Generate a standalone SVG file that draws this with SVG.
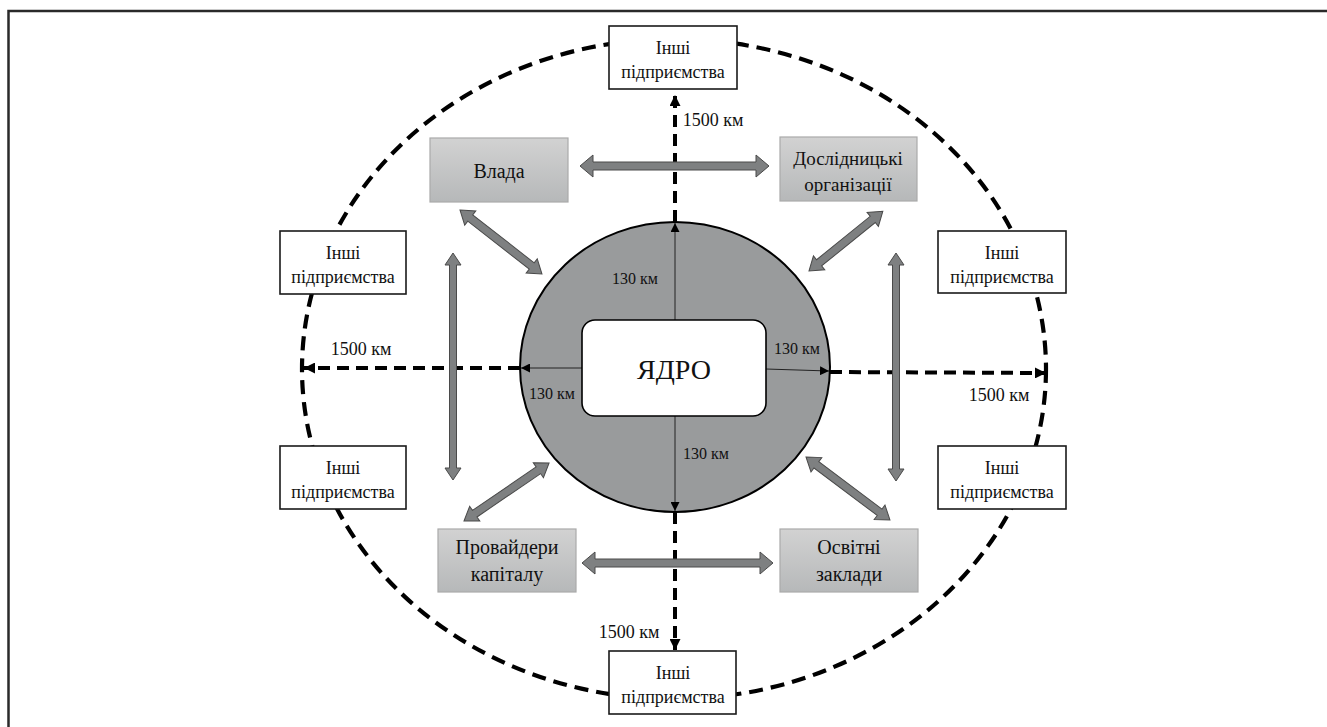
<svg xmlns="http://www.w3.org/2000/svg" width="1327" height="727" viewBox="0 0 1327 727">
<style>
.t{font-family:"Liberation Serif","Times New Roman",serif;fill:#111;text-anchor:middle}
.other{fill:#fff;stroke:#1a1a1a;stroke-width:1.6}
.gray{fill:url(#gg);stroke:#aaa;stroke-width:1.2}
.dash{fill:none;stroke:#000;stroke-width:4;stroke-dasharray:12 7}
.thin{fill:none;stroke:#222;stroke-width:1}
.blk{fill:#7e8081;stroke:#4a4a4a;stroke-width:1}
</style>
<defs>
<linearGradient id="gg" x1="0" y1="0" x2="0" y2="1">
<stop offset="0" stop-color="#d2d2d2"/>
<stop offset="1" stop-color="#b6b8b9"/>
</linearGradient>
<marker id="ah" viewBox="0 0 10 10" refX="10" refY="5" markerWidth="11" markerHeight="11" markerUnits="userSpaceOnUse" orient="auto">
<path d="M0,0 L10,5 L0,10 z" fill="#000"/>
</marker>
<marker id="ahs" viewBox="0 0 10 10" refX="10" refY="5" markerWidth="9" markerHeight="9" markerUnits="userSpaceOnUse" orient="auto">
<path d="M0,0 L10,5 L0,10 z" fill="#000"/>
</marker>
</defs>
<rect width="1327" height="727" fill="#fff"/>
<path d="M8.5,727 V11 H1327" fill="none" stroke="#2a2a2a" stroke-width="2.5"/>

<g id="boundary">
<ellipse cx="674" cy="369" rx="372" ry="330" fill="none" stroke="#000" stroke-width="4.2" stroke-dasharray="14 8"/>
</g>

<g id="cluster">
<ellipse cx="675" cy="367" rx="155" ry="145" fill="#999b9c" stroke="#000" stroke-width="2"/>
</g>

<g id="connectors">
<line x1="675" y1="320" x2="675" y2="223" class="thin" marker-end="url(#ahs)"/>
<line x1="675" y1="416" x2="675" y2="511" class="thin" marker-end="url(#ahs)"/>
<line x1="582" y1="368" x2="521" y2="368" class="thin" marker-end="url(#ahs)"/>
<line x1="766" y1="369" x2="829" y2="371" class="thin" marker-end="url(#ahs)"/>
<line x1="675" y1="222" x2="675" y2="95" class="dash" marker-end="url(#ah)"/>
<line x1="675" y1="512" x2="675" y2="650" class="dash" marker-end="url(#ah)"/>
<line x1="520" y1="368" x2="304" y2="368" class="dash" marker-end="url(#ah)"/>
<line x1="830" y1="372" x2="1046" y2="373" class="dash" marker-end="url(#ah)"/>
<polygon class="blk" transform="translate(580,166)" points="0,0 13,-11 13,-4 176,-4 176,-11 189,0 176,11 176,4 13,4 13,11"/>
<polygon class="blk" transform="translate(582,563)" points="0,0 13,-11 13,-4 178,-4 178,-11 191,0 178,11 178,4 13,4 13,11"/>
<polygon class="blk" transform="translate(453,253) rotate(90)" points="0,0 12,-8 12,-3.5 215,-3.5 215,-8 227,0 215,8 215,3.5 12,3.5 12,8"/>
<polygon class="blk" transform="translate(896,253) rotate(90)" points="0,0 12,-8 12,-3.5 216,-3.5 216,-8 228,0 216,8 216,3.5 12,3.5 12,8"/>
<polygon class="blk" transform="translate(460,210) rotate(38)" points="0,0 13,-9 13,-4 91,-4 91,-9 104,0 91,9 91,4 13,4 13,9"/>
<polygon class="blk" transform="translate(809,271) rotate(-39)" points="0,0 13,-9 13,-4 82,-4 82,-9 95,0 82,9 82,4 13,4 13,9"/>
<polygon class="blk" transform="translate(464,521) rotate(-34.3)" points="0,0 13,-9 13,-4 90,-4 90,-9 103,0 90,9 90,4 13,4 13,9"/>
<polygon class="blk" transform="translate(806,457) rotate(36.9)" points="0,0 13,-9 13,-4 92,-4 92,-9 105,0 92,9 92,4 13,4 13,9"/>
</g>

<g id="labels">
<text class="t" x="635" y="284" font-size="16">130 км</text>
<text class="t" x="552" y="399" font-size="16">130 км</text>
<text class="t" x="797" y="354" font-size="16">130 км</text>
<text class="t" x="706" y="459" font-size="16">130 км</text>
<text class="t" x="713" y="126" font-size="18">1500 км</text>
<text class="t" x="629" y="638" font-size="18">1500 км</text>
<text class="t" x="361" y="355" font-size="18">1500 км</text>
<text class="t" x="999" y="401" font-size="18">1500 км</text>
</g>

<g id="core">
<rect x="582" y="320" width="184" height="96" rx="13" fill="#fff" stroke="#000" stroke-width="1.6"/>
<text class="t" x="674" y="379" font-size="28">ЯДРО</text>
</g>

<g id="vlada">
<rect class="gray" x="430" y="138" width="138" height="64"/>
<text class="t" x="499" y="178" font-size="20">Влада</text>
</g>
<g id="research">
<rect class="gray" x="780" y="137" width="137" height="64"/>
<text class="t" x="848" y="165" font-size="19">Дослідницькі</text>
<text class="t" x="848" y="191" font-size="19">організації</text>
</g>
<g id="capital">
<rect class="gray" x="438" y="529" width="138" height="63"/>
<text class="t" x="507" y="554" font-size="20">Провайдери</text>
<text class="t" x="507" y="581" font-size="20">капіталу</text>
</g>
<g id="education">
<rect class="gray" x="780" y="529" width="138" height="63"/>
<text class="t" x="849" y="554" font-size="20">Освітні</text>
<text class="t" x="849" y="581" font-size="20">заклади</text>
</g>

<g id="other-top">
<rect class="other" x="609" y="26" width="128" height="63"/>
<text class="t" x="673" y="54" font-size="18">Інші</text>
<text class="t" x="673" y="78" font-size="18">підприємства</text>
</g>
<g id="other-bottom">
<rect class="other" x="609" y="651" width="127" height="63"/>
<text class="t" x="673" y="679" font-size="18">Інші</text>
<text class="t" x="673" y="703" font-size="18">підприємства</text>
</g>
<g id="other-left-top">
<rect class="other" x="280" y="231" width="126" height="63"/>
<text class="t" x="343" y="259" font-size="18">Інші</text>
<text class="t" x="343" y="283" font-size="18">підприємства</text>
</g>
<g id="other-left-bottom">
<rect class="other" x="280" y="446" width="126" height="63"/>
<text class="t" x="343" y="474" font-size="18">Інші</text>
<text class="t" x="343" y="498" font-size="18">підприємства</text>
</g>
<g id="other-right-top">
<rect class="other" x="938" y="231" width="128" height="62"/>
<text class="t" x="1002" y="259" font-size="18">Інші</text>
<text class="t" x="1002" y="283" font-size="18">підприємства</text>
</g>
<g id="other-right-bottom">
<rect class="other" x="938" y="446" width="128" height="63"/>
<text class="t" x="1002" y="474" font-size="18">Інші</text>
<text class="t" x="1002" y="498" font-size="18">підприємства</text>
</g>
</svg>
